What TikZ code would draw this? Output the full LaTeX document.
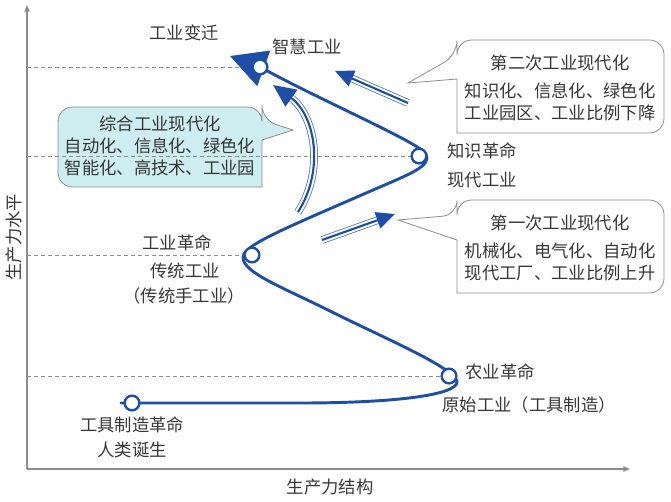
\documentclass[tikz,border=0pt]{standalone}
\usepackage{fontspec}
\setmainfont{Noto Sans CJK SC}
\usetikzlibrary{arrows.meta,calc}
\definecolor{royal}{RGB}{30,78,165}
\definecolor{sky}{RGB}{75,115,195}
\definecolor{ink}{RGB}{55,55,55}
\definecolor{rule}{RGB}{140,140,140}
\definecolor{aqua}{RGB}{205,237,240}
\tikzset{
  axisline/.style={draw=rule,line width=0.8pt,-{Triangle[length=5pt,width=4pt]}},
  guide/.style={draw=rule,line width=0.5pt,dash pattern=on 3pt off 2.2pt},
  bubble/.style={draw=rule,line width=0.6pt,fill=#1},
  bubble/.default=white,
  lbl/.style={font=\fontsize{13pt}{16pt}\selectfont,text=ink,inner sep=0pt},
  note/.style={font=\fontsize{13pt}{16.5pt}\selectfont,text=ink,align=center,inner sep=0pt},
  trend/.style={draw=royal,line width=2.2pt,line cap=round},
  milestone/.style={circle,draw=royal,line width=1.8pt,fill=white,minimum size=11pt,inner sep=0pt},
  % three-line arrows
  rails/.style={draw=sky,line width=0.6pt,double=white,double distance=4.6pt},
  core/.style={draw=royal,line width=1.6pt,-{Triangle[length=#1,width=0.9*#1]}},
  core/.default=14pt,
}
\begin{document}
\begin{tikzpicture}[x=0.75pt,y=-0.75pt]
  \useasboundingbox (0,0) rectangle (671,501);
  % axes
  \coordinate (O) at (27,469);
  \coordinate (ytop) at (27,5);
  \coordinate (xend) at (630,469);
  \draw[axisline] (O) -- (ytop);
  \draw[axisline] (O) -- (xend);
  \node[lbl,rotate=90] (ylab) at (14,237) {生产力水平};
  \node[lbl] (xlab) at (330,487) {生产力结构};

  % milestones on the curve
  \coordinate (p0) at (132,403);
  \coordinate (p1) at (449,376);
  \coordinate (p2) at (252,255);
  \coordinate (p3) at (419,156);
  \coordinate (p4) at (260,67);

  % callouts
  \draw[bubble] (408,83) -- (457,79) -- (457,133) [rounded corners=11pt] -- (664,133) -- (664,40) -- (457,40) -- (457,55) [sharp corners] -- cycle;
  \node[note] (second) at (560,88) {第二次工业现代化\\[4.5pt]知识化、信息化、绿色化\\工业园区、工业比例下降};
  \draw[bubble] (398,220) -- (457,240) -- (457,293) [rounded corners=11pt] -- (664,293) -- (664,200) -- (457,200) -- (457,215) [sharp corners] -- cycle;
  \node[note] (first) at (560,247.5) {第一次工业现代化\\[4.5pt]机械化、电气化、自动化\\现代工厂、工业比例上升};
  \draw[bubble=aqua] (293,130) -- (262,140) -- (262,187) [rounded corners=11pt] -- (58,187) -- (58,107) -- (262,107) -- (262,120) [sharp corners] -- cycle;
  \node[note] (whole) at (160,146) {综合工业现代化\\自动化、信息化、绿色化\\智能化、高技术、工业园};

  % level guides
  \foreach \p in {p1,p2,p3,p4}
    \draw[guide] (\p -| O) -- (\p);

  % trend arrows
  \coordinate (a0) at (408,103); \coordinate (a1) at (335,71);
  \coordinate (b0) at (298,212); \coordinate (b1) at (273,85);
  \coordinate (c0) at (322,240); \coordinate (c1) at (395,214);
  \draw[rails,shorten >=13pt] (a0) -- (a1);
  \draw[core] (a0) -- (a1);
  \draw[rails,shorten >=16pt] (b0) .. controls (325,170) and (315,115) .. (b1);
  \draw[core=17pt] (b0) .. controls (325,170) and (315,115) .. (b1);
  \draw[rails,shorten >=13pt] (c0) -- (c1);
  \draw[core] (c0) -- (c1);

  % development curve
  \coordinate (start) at (121,403);
  \coordinate (tip) at (230,56);
  \draw[trend] (start) -- (300,403) .. controls (400,403) and (466,394) .. (456,379)
    .. controls (446,364) and (380,336) .. (330,311)
    .. controls (280,286) and (236,270) .. (244,254)
    .. controls (250,242) and (300,222) .. (373,190)
    .. controls (410,174) and (432,166) .. (426,154)
    .. controls (420,143) and (320,100) .. (p4);
  \draw[trend,-{Triangle[length=27pt,width=28pt]}] (p4) -- (tip);
  \foreach \p/\n in {p0/s0,p1/s1,p2/s2,p3/s3,p4/s4}
    \node[milestone] (\n) at (\p) {};

  % labels
  \node[lbl] (era) at (184,33) {工业变迁};
  \node[lbl] (smart) at (307,47) {智慧工业};
  \node[lbl] (know) at (482,151) {知识革命};
  \node[lbl] (modern) at (482,180) {现代工业};
  \node[lbl] (indrev) at (177,243) {工业革命};
  \node[lbl] (trad) at (185,271) {传统工业};
  \node[lbl] (craft) at (184,296) {（传统手工业）};
  \node[lbl] (agri) at (500,372) {农业革命};
  \node[lbl] (prim) at (529,405) {原始工业（工具制造）};
  \node[lbl] (tools) at (132,425) {工具制造革命};
  \node[lbl] (human) at (132,450) {人类诞生};
\end{tikzpicture}
\end{document}
